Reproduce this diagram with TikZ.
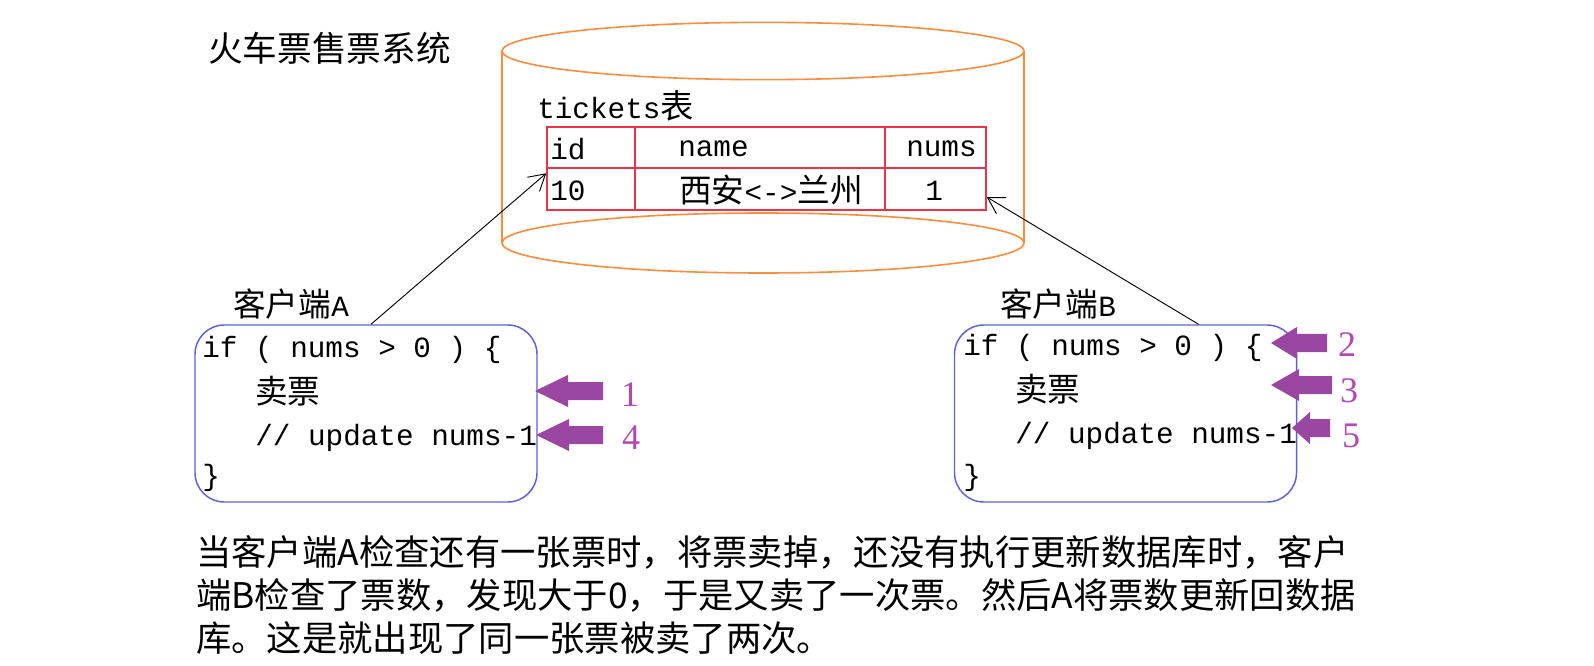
\documentclass[tikz,border=0pt]{standalone}
\usepackage{fontspec}
\newfontfamily\cjk{Noto Sans CJK SC}
\newfontfamily\mono{Liberation Mono}
\newfontfamily\numf{Liberation Serif}
\usetikzlibrary{arrows.meta,calc}
\definecolor{cylc}{RGB}{255,140,60}
\definecolor{tabc}{RGB}{235,50,70}
\definecolor{boxc}{RGB}{95,95,225}
\definecolor{arrc}{RGB}{155,70,160}
\definecolor{numc}{RGB}{180,70,185}
\tikzset{
  cyl/.style={draw=cylc, line width=1.2pt},
  cell/.style={draw=tabc, line width=1.1pt, inner sep=0pt},
  txt/.style={inner sep=0pt, anchor=west},
  codebox/.style={draw=boxc, line width=1.1pt, rounded corners=22pt, minimum width=256.5pt, minimum height=132.75pt, inner sep=0pt},
  conn/.style={draw=black, line width=0.7pt, -{Straight Barb[length=12pt,width=14pt,line width=0.7pt]}},
  marrow/.style={fill=arrc, draw=none},
  numlab/.style={inner sep=0pt, text=numc, font=\numf\fontsize{27pt}{29pt}\selectfont},
  codef/.style={font=\mono\fontsize{22pt}{24pt}\selectfont},
  cjkf/.style={font=\cjk\fontsize{24.5pt}{26pt}\selectfont},
}
\newcommand{\marrowat}[4]{\fill[marrow] (#1,#2) -- ++(#4,-16) -- ++(0,7) -- ++(#3-#4,0) -- ++(0,18) -- ++(#4-#3,0) -- ++(0,7) -- cycle;}
\begin{document}
\begin{tikzpicture}[x=0.75pt,y=-0.75pt]
\fill[white] (0,0) rectangle (1594,666);
\useasboundingbox (0,0) rectangle (1594,666);

% title
\node[txt, font=\cjk\fontsize{26pt}{28pt}\selectfont] (title) at (208,48) {火车票售票系统};

% cylinder
\draw[cyl] (763,51) ellipse [x radius=195.75pt, y radius=21.5pt];
\draw[cyl] (763,243) ellipse [x radius=195.75pt, y radius=22.5pt];
\draw[cyl] (502,51) -- (502,243);
\draw[cyl] (1024,51) -- (1024,243);

% table
\node[txt, codef] (tname) at (537,106) {tickets{\cjk\fontsize{25pt}{26pt}\selectfont 表}};
\node[cell, minimum width=66pt, minimum height=30.75pt] (cid) at (591,147.5) {};
\node[cell, minimum width=187.5pt, minimum height=30.75pt] (cname) at (760.5,147.5) {};
\node[cell, minimum width=75.75pt, minimum height=30.75pt] (cnums) at (935.5,147.5) {};
\node[cell, minimum width=66pt, minimum height=31.5pt] (c10) at (591,189) {};
\node[cell, minimum width=187.5pt, minimum height=31.5pt] (croute) at (760.5,189) {};
\node[cell, minimum width=75.75pt, minimum height=31.5pt] (c1) at (935.5,189) {};
\node[txt, codef] (tid) at (550,149) {id};
\node[txt, codef] (tn) at (678,149) {name};
\node[txt, codef] (tnums) at (906,149) {nums};
\node[txt, codef] (t10) at (550,191) {10};
\node[txt, cjkf] (troute) at (679,190) {西安{\mono\fontsize{22pt}{24pt}\selectfont<->}兰州};
\node[txt, codef] (tone) at (925,191) {1};

% client A
\node[txt, cjkf] (labA) at (233,304) {客户端{\mono\fontsize{22pt}{24pt}\selectfont A}};
\node[codebox] (boxA) at (366,413.5) {};
\node[txt, codef] (a1) at (202,350) {if ( nums > 0 ) \{};
\node[txt, cjkf] (a2) at (255,391) {卖票};
\node[txt, codef] (a3) at (255,438) {// update nums-1};
\node[txt, codef] (a4) at (202,478) {\}};

% client B
\node[txt, cjkf] (labB) at (1000,304) {客户端{\mono\fontsize{22pt}{24pt}\selectfont B}};
\node[codebox] (boxB) at (1125.5,413.5) {};
\node[txt, codef] (b1) at (963,348) {if ( nums > 0 ) \{};
\node[txt, cjkf] (b2) at (1015,389) {卖票};
\node[txt, codef] (b3) at (1015,436) {// update nums-1};
\node[txt, codef] (b4) at (963,478) {\}};

% connectors
\draw[conn] ($(boxA.north)+(5,0)$) -- ($(c10.north west)+(0,6)$);
\draw[conn] ($(boxB.north)+(73,0)$) -- ($(c1.east)+(0,8)$);

% magenta arrows
\marrowat{535}{391}{68}{33}
\marrowat{536}{435}{67}{33}
\marrowat{1271}{343}{56}{26}
\marrowat{1271}{385}{61}{28}
\marrowat{1292}{428}{38}{18}
\node[numlab] (n1) at (630,395) {1};
\node[numlab] (n4) at (631,438) {4};
\node[numlab] (n2) at (1347,345) {2};
\node[numlab] (n3) at (1349,391) {3};
\node[numlab] (n5) at (1351,436) {5};

% paragraph
\begin{scope}[every node/.style={txt, font=\cjk\fontsize{26.5pt}{30pt}\selectfont}]
\node (p1) at (196,552) {当客户端A检查还有一张票时，将票卖掉，还没有执行更新数据库时，客户};
\node (p2) at (196,595) {端B检查了票数，发现大于0，于是又卖了一次票。然后A将票数更新回数据};
\node (p3) at (196,638) {库。这是就出现了同一张票被卖了两次。};
\end{scope}
\end{tikzpicture}
\end{document}
